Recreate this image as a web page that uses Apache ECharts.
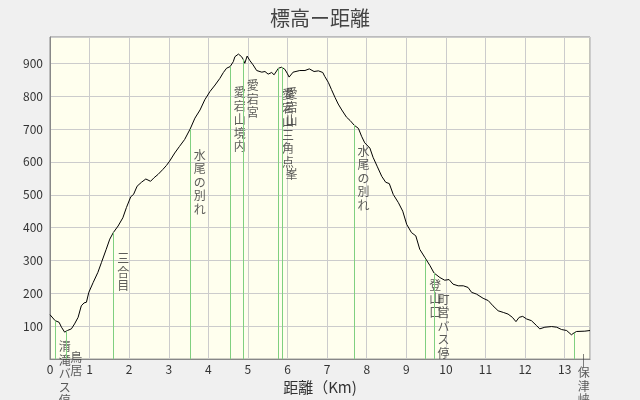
<!DOCTYPE html>
<html>
<head>
<meta charset="utf-8">
<title>標高ー距離</title>
<script src="https://cdn.jsdelivr.net/npm/echarts@6/dist/echarts.min.js"></script>
<style>
  html, body { margin: 0; padding: 0; background: #f0f0f0; }
  #chart { width: 640px; height: 400px; }
</style>
</head>
<body>
<div id="chart"></div>
<script>
// profile (km / m)
const distKm = [0.00, 0.03, 0.13, 0.23, 0.29, 0.37, 0.44, 0.54, 0.62, 0.71, 0.79, 0.86, 0.92, 0.98, 1.09, 1.21, 1.30, 1.42, 1.51, 1.60,
  1.72, 1.84, 1.93, 2.04, 2.11, 2.20, 2.31, 2.42, 2.47, 2.54, 2.63, 2.73, 2.85, 2.94, 3.02, 3.15, 3.27, 3.40, 3.54, 3.66,
  3.79, 3.91, 4.04, 4.17, 4.29, 4.38, 4.46, 4.55, 4.63, 4.67, 4.76, 4.84, 4.88, 4.92, 4.98, 5.05, 5.13, 5.22, 5.35, 5.43,
  5.51, 5.60, 5.66, 5.77, 5.85, 5.93, 5.99, 6.04, 6.14, 6.31, 6.44, 6.55, 6.67, 6.78, 6.89, 6.94, 7.03, 7.11, 7.20, 7.28,
  7.37, 7.49, 7.58, 7.68, 7.79, 7.87, 7.95, 8.08, 8.16, 8.27, 8.38, 8.48, 8.57, 8.67, 8.80, 8.91, 9.01, 9.13, 9.24, 9.34,
  9.47, 9.60, 9.70, 9.85, 9.97, 10.08, 10.18, 10.31, 10.44, 10.56, 10.65, 10.77, 10.94, 11.07, 11.19, 11.32, 11.45, 11.57, 11.68, 11.77,
  11.85, 11.94, 12.04, 12.16, 12.29, 12.37, 12.50, 12.67, 12.80, 12.92, 13.05, 13.17, 13.24, 13.30, 13.51, 13.64];
const elevM = [135, 132, 117, 112, 97, 82, 87, 92, 107, 127, 162, 171, 173, 203, 233, 264, 294, 334, 365, 385,
  405, 430, 461, 494, 501, 526, 538, 548, 546, 541, 552, 562, 577, 589, 602, 627, 647, 668, 700, 733,
  758, 789, 814, 834, 854, 872, 885, 890, 905, 920, 928, 920, 912, 900, 922, 908, 895, 878, 873, 875,
  867, 872, 865, 885, 888, 882, 870, 858, 873, 878, 878, 883, 875, 877, 872, 860, 842, 820, 796, 776,
  758, 736, 726, 712, 702, 678, 658, 642, 614, 585, 556, 538, 534, 501, 476, 450, 410, 385, 375, 334,
  309, 284, 262, 248, 240, 242, 228, 223, 223, 218, 203, 198, 185, 178, 162, 147, 142, 137, 127, 114,
  127, 130, 122, 117, 102, 92, 97, 99, 97, 90, 87, 74, 80, 84, 85, 87];

// landmarks along the route
const spotNames = ['清滝バス停', '鳥居', '三合目', '水尾の別れ', '愛宕山境内', '愛宕宮', '愛宕山三角点', '愛宕山　　　峯', '水尾の別れ', '登山口', '町営バス停', '|保津峡駅'];
const spotKm = [0.13, 0.42, 1.61, 3.54, 4.55, 4.88, 5.77, 5.86, 7.68, 9.49, 9.70, 13.24];
const spotElev = [117, 85, 385, 700, 890, 912, 885, 888, 712, 305, 262, 80];

const xTicks = { min: 0, max: 13.64, step: 1 };
const yTicks = { min: 0, max: 980, step: 100 };

const profile = distKm.map((d, i) => [d, elevM[i]]);
const spots = spotKm.map((d, i) => ({ value: [d, spotElev[i]], name: spotNames[i] }));
const spotLines = spotKm.map((d, i) => [{ coord: [d, spotElev[i]] }, { coord: [d, 0] }]);

const chart = echarts.init(document.getElementById('chart'));
chart.setOption({
  backgroundColor: '#f0f0f0',
  animation: false,
  textStyle: { fontFamily: '"Noto Sans CJK JP", sans-serif' },
  title: {
    text: '標高ー距離',
    left: 'center',
    top: 3,
    textStyle: { fontSize: 20, fontWeight: 'normal', color: '#444' }
  },
  grid: {
    left: 50, right: 50, top: 37, bottom: 40,
    show: true,
    backgroundColor: '#ffffee',
    borderColor: '#888',
    borderWidth: 1
  },
  xAxis: {
    type: 'value',
    min: xTicks.min,
    max: xTicks.max,
    interval: xTicks.step,
    name: '距離（Km)',
    nameLocation: 'middle',
    nameGap: 13,
    nameTextStyle: { fontSize: 15, color: '#333' },
    axisLine: { lineStyle: { color: '#888' } },
    axisTick: { show: false },
    axisLabel: {
      color: '#333', fontSize: 12, margin: 4,
      formatter: v => (Math.abs(v - Math.round(v)) < 1e-6 ? String(Math.round(v)) : '')
    },
    splitLine: { lineStyle: { color: '#ccc' } }
  },
  yAxis: {
    type: 'value',
    min: yTicks.min,
    max: yTicks.max,
    interval: yTicks.step,
    axisLine: { show: true, lineStyle: { color: '#888' } },
    axisTick: { show: false },
    axisLabel: {
      color: '#333', fontSize: 12, margin: 7,
      formatter: v => (v > 0 && v % 100 === 0 ? String(v) : '')
    },
    splitLine: { lineStyle: { color: '#ccc' } }
  },
  series: [
    {
      // green marker lines
      type: 'line',
      data: [],
      silent: true,
      markLine: {
        silent: true,
        symbol: 'none',
        label: { show: false },
        lineStyle: { color: '#80d080', width: 1, type: 'solid' },
        data: spotLines
      }
    },
    {
      type: 'line',
      data: profile,
      symbol: 'none',
      lineStyle: { color: '#000', width: 1 },
      itemStyle: { color: '#000' },
      z: 3
    },
    {
      // vertical landmark names
      type: 'scatter',
      data: spots,
      symbolSize: 1,
      itemStyle: { color: 'rgba(0,0,0,0)' },
      silent: true,
      z: 4,
      label: {
        show: true,
        position: [10, 20],
        align: 'center',
        verticalAlign: 'top',
        fontSize: 12,
        lineHeight: 13.5,
        color: '#333',
        formatter: p => p.name.split('').join('\n')
      }
    }
  ]
});
</script>
</body>
</html>
